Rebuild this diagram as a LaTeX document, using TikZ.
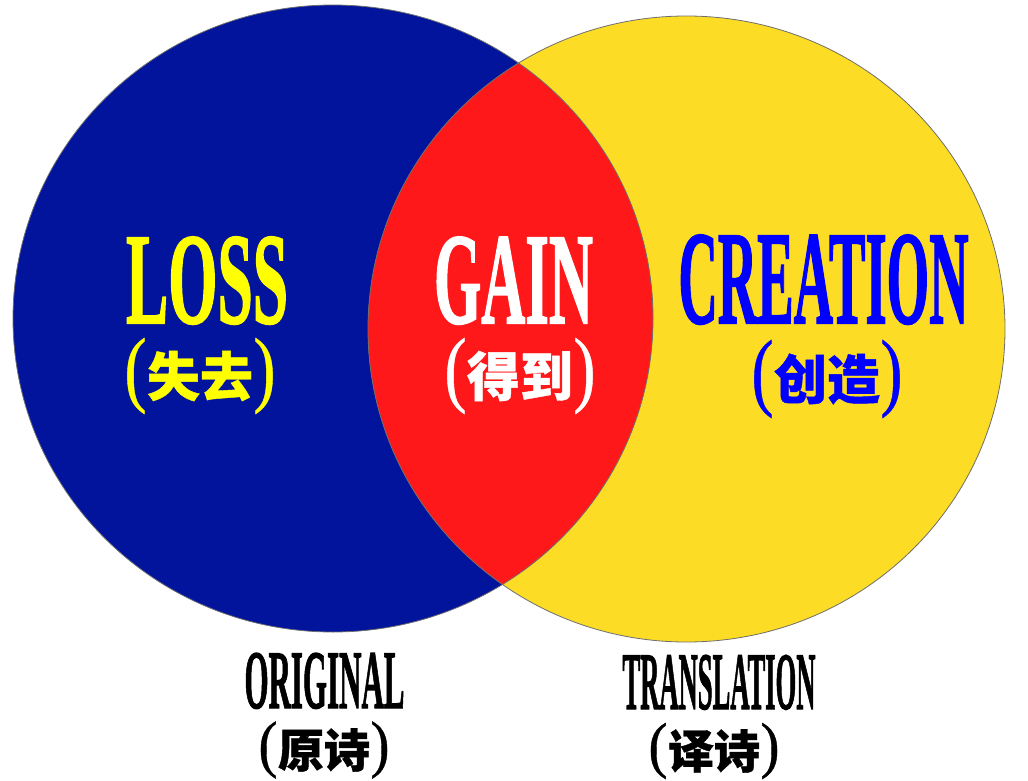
\documentclass[tikz,border=0pt]{standalone}
\usepackage{fontspec}
\setmainfont{Liberation Serif}
\newfontfamily\heavyserif{Liberation Serif}[BoldFeatures={FakeBold=1.6}]
\newfontfamily\parenserif{Liberation Serif}[FakeBold=0.6]
\newfontfamily\cjkfont{Noto Sans CJK SC}[BoldFeatures={FakeBold=0.8}]
\definecolor{origblue}{RGB}{2,20,156}
\definecolor{transyellow}{RGB}{253,220,38}
\definecolor{gainred}{RGB}{255,24,26}
\definecolor{edgegray}{RGB}{110,110,110}
\definecolor{loss}{RGB}{255,255,0}
\definecolor{creat}{RGB}{0,0,255}
\newcommand{\fitword}[3]{\resizebox{#2}{#3}{\heavyserif\bfseries #1}}
\newcommand{\cnline}[4]{$\vcenter{\hbox{\resizebox*{#4}{#3}{\parenserif (}}}\mkern1mu\vcenter{\hbox{\cjkfont\bfseries\fontsize{#2}{#2}\selectfont #1}}\mkern1mu\vcenter{\hbox{\resizebox*{#4}{#3}{\parenserif )}}}$}
\begin{document}
\begin{tikzpicture}[x=1pt,y=-1pt,
  wordnode/.style={anchor=base,inner sep=0pt,outer sep=0pt},
  cnnode/.style={anchor=center,inner sep=0pt,outer sep=0pt},
  rim/.style={draw=edgegray,line width=0.8pt}]
\useasboundingbox (0,0) rectangle (1028,781);
\coordinate (oc) at (333,318.5);
\coordinate (tc) at (686.5,329);
% fills
\fill[origblue] (oc) ellipse [x radius=320pt, y radius=313.5pt];
\fill[transyellow] (tc) ellipse [x radius=318.5pt, y radius=313pt];
\begin{scope}
  \clip (oc) ellipse [x radius=320pt, y radius=313.5pt];
  \fill[gainred] (tc) ellipse [x radius=318.5pt, y radius=313pt];
\end{scope}
% outlines
\draw[rim] (oc) ellipse [x radius=320pt, y radius=313.5pt];
\draw[rim] (tc) ellipse [x radius=318.5pt, y radius=313pt];
% labels
\node[wordnode,text=loss] (lossw) at (207,323) {\fitword{LOSS}{162pt}{86pt}};
\node[cnnode,text=loss] (losscn) at (200,376) {\cnline{失去}{53pt}{76pt}{22pt}};
\node[wordnode,text=white] (gainw) at (513.5,323) {\fitword{GAIN}{159pt}{86pt}};
\node[cnnode,text=white] (gaincn) at (520,376) {\cnline{得到}{53pt}{76pt}{22pt}};
\node[wordnode,text=creat] (creatw) at (823.5,323) {\fitword{CREATION}{290pt}{88pt}};
\node[cnnode,text=creat] (creatcn) at (827,379) {\cnline{创造}{53pt}{78pt}{22pt}};
\node[wordnode,text=black] (origw) at (324.5,708) {\fitword{ORIGINAL}{160pt}{55pt}};
\node[cnnode,text=black] (origcn) at (324,750) {\cnline{原诗}{46pt}{57pt}{19pt}};
\node[wordnode,text=black] (transw) at (719,709) {\fitword{TRANSLATION}{193pt}{54pt}};
\node[cnnode,text=black] (transcn) at (714,751) {\cnline{译诗}{46pt}{56pt}{19pt}};
\end{tikzpicture}
\end{document}
